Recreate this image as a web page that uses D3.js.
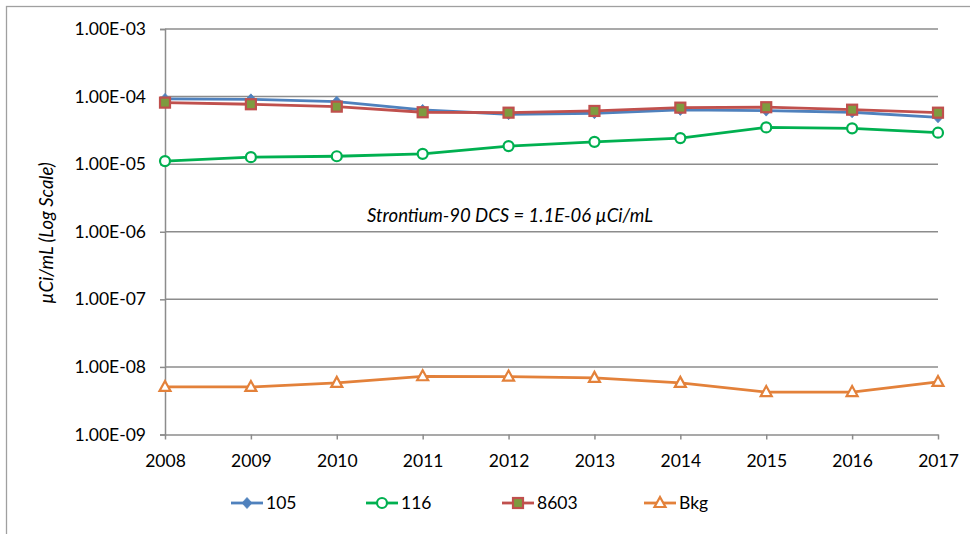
<!DOCTYPE html>
<html>
<head>
<meta charset="utf-8">
<script src="https://cdn.jsdelivr.net/npm/d3@7"></script>
<style>
  html, body { margin: 0; padding: 0; background: #fff; }
  svg { display: block; font-family: Lato, "Open Sans", sans-serif; }
</style>
</head>
<body>
<svg id="chart" width="970" height="534"></svg>
<script>
const years = [2008, 2009, 2010, 2011, 2012, 2013, 2014, 2015, 2016, 2017];
const s105  = [9.24e-5, 9.1e-5, 8.4e-5, 6.35e-5, 5.48e-5, 5.67e-5, 6.35e-5, 6.2e-5, 5.86e-5, 4.94e-5];
const s116  = [1.11e-5, 1.27e-5, 1.31e-5, 1.42e-5, 1.85e-5, 2.14e-5, 2.43e-5, 3.5e-5, 3.39e-5, 2.92e-5];
const s8603 = [8.14e-5, 7.7e-5, 7.1e-5, 5.86e-5, 5.78e-5, 6.13e-5, 6.86e-5, 6.96e-5, 6.4e-5, 5.78e-5];
const sBkg  = [5.05e-9, 5.05e-9, 5.8e-9, 7.27e-9, 7.2e-9, 6.88e-9, 5.8e-9, 4.25e-9, 4.25e-9, 6.0e-9];
const seriesNames = ["105", "116", "8603", "Bkg"];
const yTickValues = [1e-9, 1e-8, 1e-7, 1e-6, 1e-5, 1e-4, 1e-3];
const yTickLabels = ["1.00E-09", "1.00E-08", "1.00E-07", "1.00E-06", "1.00E-05", "1.00E-04", "1.00E-03"];
const yTitle = "µCi/mL (Log Scale)";
const annotation = "Strontium-90 DCS = 1.1E-06 µCi/mL";

const svg = d3.select("#chart");
const gridColor = "#8c8c8c";
const FONT = "Lato, 'Open Sans', sans-serif";

// outer chart border
svg.append("rect").attr("x", 6.5).attr("y", 6.5).attr("width", 1000).attr("height", 1000)
  .attr("fill", "none").attr("stroke", "#a0a0a0").attr("stroke-width", 1.3);

const x = d3.scaleLinear().domain([2008, 2017]).range([165, 938]);
const y = d3.scaleLog().domain([1e-9, 1e-3]).range([434.5, 29]);

// gridlines
svg.append("g").selectAll("line").data(yTickValues.slice(1)).join("line")
  .attr("x1", 165).attr("x2", 938)
  .attr("y1", d => y(d)).attr("y2", d => y(d))
  .attr("stroke", gridColor).attr("stroke-width", 1.5);

// y axis
const yAxis = d3.axisLeft(y).tickValues(yTickValues)
  .tickFormat((d, i) => yTickLabels[i]).tickSize(5).tickPadding(14);
const gy = svg.append("g").attr("transform", "translate(165,0)").call(yAxis);
gy.attr("font-size", null).attr("font-family", null);
gy.select(".domain").attr("stroke", gridColor).attr("stroke-width", 1.5);
gy.selectAll(".tick line").attr("stroke", gridColor).attr("stroke-width", 1.5);
gy.selectAll("text").style("font-size", "17.5px").attr("fill", "#000").style("font-family", FONT);

// x axis
const xAxis = d3.axisBottom(x).tickValues(years).tickFormat(d3.format("d"))
  .tickSize(5).tickSizeOuter(0).tickPadding(15);
const gx = svg.append("g").attr("transform", "translate(0,434.5)").call(xAxis);
gx.attr("font-size", null).attr("font-family", null);
gx.select(".domain").attr("stroke", gridColor).attr("stroke-width", 1.5);
gx.selectAll(".tick line").attr("stroke", gridColor).attr("stroke-width", 1.5);
gx.selectAll("text").style("font-size", "17.5px").attr("fill", "#000").style("font-family", FONT);

// y title
svg.append("text").attr("transform", "translate(53,233) rotate(-90)")
  .attr("text-anchor", "middle").style("font-size", "18.5px").attr("font-style", "italic")
  .attr("fill", "#000").text(yTitle);

// annotation
svg.append("text").attr("x", 510).attr("y", 222)
  .attr("text-anchor", "middle").style("font-size", "18.5px").attr("font-style", "italic")
  .attr("fill", "#000").text(annotation);

const series = [
  { name: seriesNames[0], values: s105, color: "#4F81BD", marker: "diamond" },
  { name: seriesNames[1], values: s116, color: "#00B050", marker: "circle" },
  { name: seriesNames[2], values: s8603, color: "#C0504D", marker: "square" },
  { name: seriesNames[3], values: sBkg, color: "#E3813A", marker: "triangle" }
];

function drawMarker(g, type, color) {
  if (type === "diamond") {
    g.append("path").attr("d", "M0,-5.5L5,0L0,5.5L-5,0Z").attr("fill", color).attr("stroke", color).attr("stroke-width", 0.8);
  } else if (type === "circle") {
    g.append("circle").attr("r", 5).attr("fill", "#fff").attr("stroke", color).attr("stroke-width", 2.2);
  } else if (type === "square") {
    g.append("rect").attr("x", -5).attr("y", -5).attr("width", 10).attr("height", 10)
      .attr("fill", "#7E9B3F").attr("stroke", color).attr("stroke-width", 2.2);
  } else if (type === "triangle") {
    g.append("path").attr("d", "M0,-6L5.5,4L-5.5,4Z").attr("fill", "#fff").attr("stroke", color).attr("stroke-width", 2.2);
  }
}

const line = d3.line().x(d => x(d[0])).y(d => y(d[1]));
series.forEach(s => {
  const pts = years.map((yr, i) => [yr, s.values[i]]);
  const g = svg.append("g");
  g.append("path").datum(pts).attr("d", line).attr("fill", "none")
    .attr("stroke", s.color).attr("stroke-width", 2.8).attr("stroke-linejoin", "round");
  pts.forEach(p => {
    const mg = g.append("g").attr("transform", `translate(${x(p[0])},${y(p[1])})`);
    drawMarker(mg, s.marker, s.color);
  });
});

// legend
const legendX = [231, 366, 502, 644];
const legendY = 503;
series.forEach((s, i) => {
  const g = svg.append("g").attr("transform", `translate(${legendX[i]},${legendY})`);
  g.append("line").attr("x1", 0).attr("x2", 32).attr("stroke", s.color).attr("stroke-width", 2.8);
  const mg = g.append("g").attr("transform", "translate(16,0)");
  drawMarker(mg, s.marker, s.color);
  g.append("text").attr("x", 35).attr("y", 0).attr("dy", "0.35em")
    .style("font-size", "17.5px").attr("fill", "#000").text(s.name);
});
</script>
</body>
</html>
